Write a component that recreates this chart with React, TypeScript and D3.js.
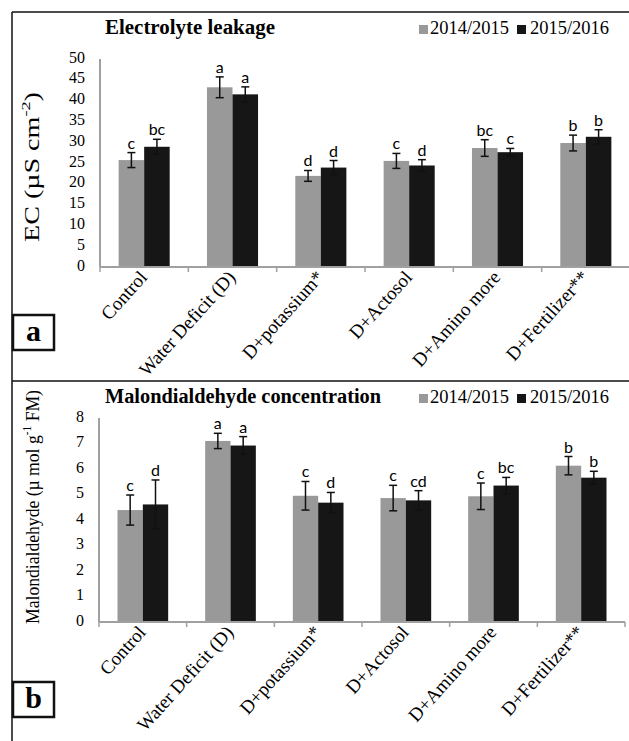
import React from "react";
import * as d3 from "d3";

const categories = ["Control", "Water Deficit (D)", "D+potassium*", "D+Actosol", "D+Amino more", "D+Fertilizer**"];
const seriesNames = ["2014/2015", "2015/2016"];

const ecY1 = [25.7, 43.2, 21.9, 25.5, 28.6, 29.8];
const ecY2 = [28.9, 41.5, 23.9, 24.4, 27.6, 31.3];
const ecErr1 = [1.8, 2.5, 1.3, 1.8, 2.0, 1.9];
const ecErr2 = [1.8, 1.8, 1.7, 1.4, 0.9, 1.7];
const ecLet1 = ["c", "a", "d", "c", "bc", "b"];
const ecLet2 = ["bc", "a", "d", "d", "c", "b"];
const ecTicks = [0, 5, 10, 15, 20, 25, 30, 35, 40, 45, 50];

const mdaY1 = [4.39, 7.1, 4.95, 4.86, 4.93, 6.13];
const mdaY2 = [4.61, 6.92, 4.68, 4.77, 5.35, 5.66];
const mdaErr1 = [0.59, 0.3, 0.56, 0.5, 0.52, 0.36];
const mdaErr2 = [0.96, 0.35, 0.4, 0.38, 0.32, 0.25];
const mdaLet1 = ["c", "a", "c", "c", "c", "b"];
const mdaLet2 = ["d", "a", "d", "cd", "bc", "b"];
const mdaTicks = [0, 1, 2, 3, 4, 5, 6, 7, 8];

const COLORS = ["#999999", "#161616"];
const SERIF = "'Liberation Serif', 'Times New Roman', serif";
const SANS = "Lato, 'Open Sans', sans-serif";

type PanelProps = {
  title: string;
  titleLen: number;
  yLabel: React.ReactNode;
  yLabelLen: number;
  yLabelSize: number;
  vals: number[][];
  errs: number[][];
  lets: string[][];
  ticks: number[];
  yMax: number;
  top: number;
  bottom: number;
  left: number;
  right: number;
  titleY: number;
  yLabelX: number;
  yLabelY: number;
  tag: string;
  tagY: number;
};

function Panel(p: PanelProps) {
  const x = d3.scaleBand<string>().domain(categories).range([p.left, p.right]).padding(0);
  const xs = d3.scaleBand<string>().domain(seriesNames).range([0, x.bandwidth()]).paddingInner(0).paddingOuter(0.73);
  const y = d3.scaleLinear().domain([0, p.yMax]).range([p.bottom, p.top]);
  const bounds = categories.map((c) => x(c) as number).concat([p.right]);
  return (
    <g>
      <text x={105} y={p.titleY} fontFamily={SERIF} fontWeight="bold" fontSize={20} textLength={p.titleLen} lengthAdjust="spacingAndGlyphs" dominantBaseline="middle">
        {p.title}
      </text>
      {seriesNames.map((s, i) => (
        <g key={s}>
          <rect x={419 + i * 98} y={p.titleY - 4} width={9} height={9} fill={COLORS[i]} />
          <text x={430 + i * 100} y={p.titleY + 1} fontFamily={SERIF} fontSize={18.5} textLength={79} lengthAdjust="spacingAndGlyphs" dominantBaseline="middle">
            {s}
          </text>
        </g>
      ))}
      <text transform={`translate(${p.yLabelX},${p.yLabelY}) rotate(-90)`} textAnchor="middle" fontFamily={SERIF} fontSize={p.yLabelSize} textLength={p.yLabelLen} lengthAdjust="spacingAndGlyphs" dominantBaseline="middle">
        {p.yLabel}
      </text>
      {p.ticks.map((t) => (
        <text key={t} x={p.left - 15} y={y(t)} textAnchor="end" dominantBaseline="middle" fontFamily={SERIF} fontSize={16}>
          {t}
        </text>
      ))}
      {categories.map((c, ci) => (
        <g key={c}>
          {seriesNames.map((s, si) => {
            const v = p.vals[si][ci];
            const e = p.errs[si][ci];
            const bx = (x(c) as number) + (xs(s) as number);
            const cx = bx + xs.bandwidth() / 2;
            return (
              <g key={s}>
                <rect x={bx} y={y(v)} width={xs.bandwidth()} height={p.bottom - y(v)} fill={COLORS[si]} />
                <line x1={cx} x2={cx} y1={y(v + e)} y2={y(v - e)} stroke="#111" strokeWidth={1.5} />
                <line x1={cx - 4} x2={cx + 4} y1={y(v + e)} y2={y(v + e)} stroke="#111" strokeWidth={1.5} />
                <line x1={cx - 4} x2={cx + 4} y1={y(v - e)} y2={y(v - e)} stroke="#111" strokeWidth={1.5} />
                <text x={cx} y={y(v + e) - 4} textAnchor="middle" fontFamily={SANS} fontSize={16}>
                  {p.lets[si][ci]}
                </text>
              </g>
            );
          })}
          <text transform={`translate(${(x(c) as number) + x.bandwidth() / 2 + 4},${p.bottom + 11}) rotate(-48)`} textAnchor="end" fontFamily={SERIF} fontSize={19}>
            {c}
          </text>
        </g>
      ))}
      <line x1={p.left} x2={p.left} y1={p.top} y2={p.bottom} stroke="#a0a0a0" strokeWidth={2} />
      <line x1={p.left} x2={p.right} y1={p.bottom} y2={p.bottom} stroke="#a0a0a0" strokeWidth={2} />
      {bounds.map((b, i) => (
        <line key={i} x1={b} x2={b} y1={p.bottom} y2={p.bottom + 5} stroke="#a0a0a0" strokeWidth={1.5} />
      ))}
      <rect x={13} y={p.tagY} width={41} height={35} fill="white" stroke="#111" strokeWidth={2.5} />
      <text x={33.5} y={p.tagY + 19} textAnchor="middle" dominantBaseline="middle" fontFamily={SERIF} fontWeight="bold" fontSize={30}>
        {p.tag}
      </text>
    </g>
  );
}

export default function App() {
  return (
    <svg width={629} height={741} style={{ position: "absolute", left: 0, top: 0, background: "white" }}>
      <rect x={0} y={0} width={629} height={741} fill="white" />
      <line x1={12} x2={12} y1={12} y2={741} stroke="#111" strokeWidth={1.5} />
      <line x1={12} x2={629} y1={12} y2={12} stroke="#111" strokeWidth={1.5} />
      <line x1={12} x2={629} y1={381} y2={381} stroke="#111" strokeWidth={1.5} />
      <Panel
        title="Electrolyte leakage"
        titleLen={170}
        yLabel={
          <>
            EC (µS cm<tspan dy={-7} fontSize={13}>-2</tspan>
            <tspan dy={7}>)</tspan>
          </>
        }
        yLabelLen={150}
        yLabelSize={20}
        vals={[ecY1, ecY2]}
        errs={[ecErr1, ecErr2]}
        lets={[ecLet1, ecLet2]}
        ticks={ecTicks}
        yMax={50}
        top={59}
        bottom={267}
        left={100}
        right={630}
        titleY={29}
        yLabelX={34}
        yLabelY={167}
        tag="a"
        tagY={315}
      />
      <Panel
        title="Malondialdehyde concentration"
        titleLen={276}
        yLabel={
          <>
            Malondialdehyde (µ mol g<tspan dy={-7} fontSize={12}>-1</tspan>
            <tspan dy={7}> FM)</tspan>
          </>
        }
        yLabelLen={234}
        yLabelSize={18.5}
        vals={[mdaY1, mdaY2]}
        errs={[mdaErr1, mdaErr2]}
        lets={[mdaLet1, mdaLet2]}
        ticks={mdaTicks}
        yMax={8}
        top={418}
        bottom={622}
        left={99}
        right={625}
        titleY={398}
        yLabelX={35}
        yLabelY={507}
        tag="b"
        tagY={682}
      />
    </svg>
  );
}
